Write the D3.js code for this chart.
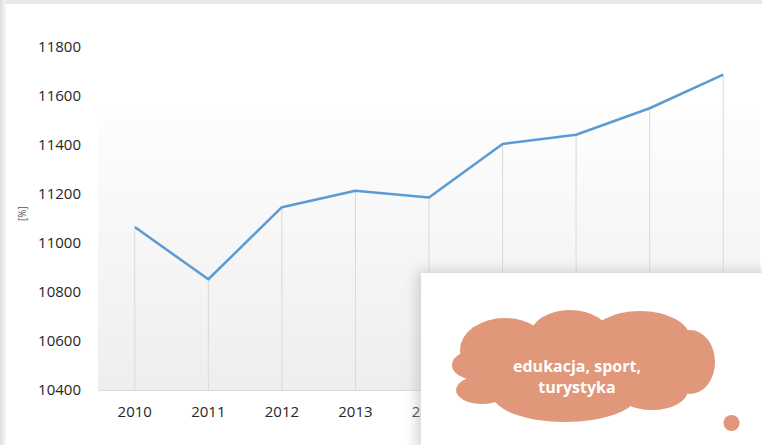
<!DOCTYPE html>
<html>
<head>
<meta charset="utf-8">
<script src="https://cdn.jsdelivr.net/npm/d3@7"></script>
<style>
  body { margin: 0; background: #fff; }
  svg { display: block; font-family: "Open Sans", sans-serif; }
</style>
</head>
<body>
<svg id="chart" width="762" height="445"></svg>
<script>
const years = ["2010", "2011", "2012", "2013", "2014", "2015", "2016", "2017", "2018"];
const values = [11065, 10852, 11146, 11213, 11186, 11404, 11442, 11550, 11687];
const yTicks = [10400, 10600, 10800, 11000, 11200, 11400, 11600, 11800];
const unitLabel = "[%]";
const cloudLines = ["edukacja, sport,", "turystyka"];

const svg = d3.select("#chart");
const W = +svg.attr("width"), H = +svg.attr("height");
const margin = { top: 47, right: 2, bottom: 55, left: 98 };

const defs = svg.append("defs");
const bg = defs.append("linearGradient").attr("id", "plotBg")
  .attr("x1", 0).attr("y1", 0).attr("x2", 0).attr("y2", 1);
bg.append("stop").attr("offset", "0%").attr("stop-color", "#fefefe");
bg.append("stop").attr("offset", "100%").attr("stop-color", "#eeeeee");
const edge = defs.append("linearGradient").attr("id", "leftEdge")
  .attr("x1", 0).attr("y1", 0).attr("x2", 1).attr("y2", 0);
edge.append("stop").attr("offset", "0%").attr("stop-color", "#dedede");
edge.append("stop").attr("offset", "100%").attr("stop-color", "#f7f7f7");
const blur = defs.append("filter").attr("id", "shadow")
  .attr("x", "-20%").attr("y", "-20%").attr("width", "140%").attr("height", "140%");
blur.append("feGaussianBlur").attr("stdDeviation", 6);

// frame
svg.append("rect").attr("width", W).attr("height", H).attr("fill", "#fff");
svg.append("rect").attr("width", W).attr("height", 4).attr("fill", "#e8e8e8");
svg.append("rect").attr("width", 6).attr("height", H).attr("fill", "url(#leftEdge)");

const x = d3.scaleBand().domain(years).range([margin.left, W - margin.right]);
const y = d3.scaleLinear().domain([10400, 11800]).range([H - margin.bottom, margin.top]);
const cx = (d) => x(d) + x.bandwidth() / 2;

// plot background
svg.append("rect")
  .attr("x", margin.left).attr("y", y(11560))
  .attr("width", W - margin.right - margin.left)
  .attr("height", y(10400) - y(11560))
  .attr("fill", "url(#plotBg)");

// drop lines
svg.append("g").selectAll("line")
  .data(years)
  .join("line")
  .attr("x1", cx).attr("x2", cx)
  .attr("y1", (d, i) => y(values[i])).attr("y2", y(10400))
  .attr("stroke", "#d9d9d9").attr("stroke-width", 1);

// axes
const yAxis = svg.append("g")
  .attr("transform", `translate(${margin.left - 9},0)`)
  .call(d3.axisLeft(y).tickValues(yTicks).tickFormat(d3.format("d")).tickSize(0).tickPadding(8));
yAxis.select(".domain").remove();
yAxis.selectAll("text").attr("font-size", 15).attr("fill", "#262626")
  .attr("font-family", "Open Sans, sans-serif");

const xAxis = svg.append("g")
  .attr("transform", `translate(0,${y(10400)})`)
  .call(d3.axisBottom(x).tickSize(0).tickPadding(16));
xAxis.select(".domain").attr("stroke", "#d9d9d9");
xAxis.selectAll("text").attr("font-size", 15).attr("fill", "#262626")
  .attr("font-family", "Open Sans, sans-serif");

svg.append("text")
  .attr("transform", `translate(26,${y(11120)}) rotate(-90)`)
  .attr("text-anchor", "middle")
  .attr("font-size", 10).attr("fill", "#595959")
  .text(unitLabel);

// line
svg.append("path")
  .datum(values)
  .attr("fill", "none")
  .attr("stroke", "#5b9bd5")
  .attr("stroke-width", 2.5)
  .attr("stroke-linejoin", "round")
  .attr("d", d3.line().x((d, i) => cx(years[i])).y((d) => y(d)));

// overlay panel
const panel = { x: 421, y: 273, w: W - 421 + 10, h: H - 273 + 10 };
svg.append("rect")
  .attr("x", panel.x - 5).attr("y", panel.y - 3)
  .attr("width", panel.w).attr("height", panel.h)
  .attr("fill", "#b8b8b8").attr("opacity", 0.55)
  .attr("filter", "url(#shadow)");
svg.append("rect")
  .attr("x", panel.x).attr("y", panel.y)
  .attr("width", panel.w).attr("height", panel.h)
  .attr("fill", "#fff");

// cloud
const cloudColor = "#e0977a";
const lobes = [
  [585, 366, 110, 36], [505, 350, 45, 32], [570, 336, 40, 26], [640, 338, 50, 27],
  [690, 362, 25, 32], [476, 365, 24, 15], [482, 390, 26, 14], [565, 395, 72, 27],
  [652, 390, 36, 20]
];
svg.append("g").selectAll("ellipse").data(lobes).join("ellipse")
  .attr("cx", (d) => d[0]).attr("cy", (d) => d[1])
  .attr("rx", (d) => d[2]).attr("ry", (d) => d[3])
  .attr("fill", cloudColor);

svg.append("text")
  .attr("x", 577).attr("y", 372)
  .attr("text-anchor", "middle")
  .attr("font-size", 16).attr("font-weight", "bold").attr("fill", "#fff")
  .selectAll("tspan").data(cloudLines).join("tspan")
  .attr("x", 577).attr("dy", (d, i) => (i ? 21 : 0))
  .text((d) => d);

svg.append("circle").attr("cx", 731.5).attr("cy", 423).attr("r", 8).attr("fill", cloudColor);
</script>
</body>
</html>
